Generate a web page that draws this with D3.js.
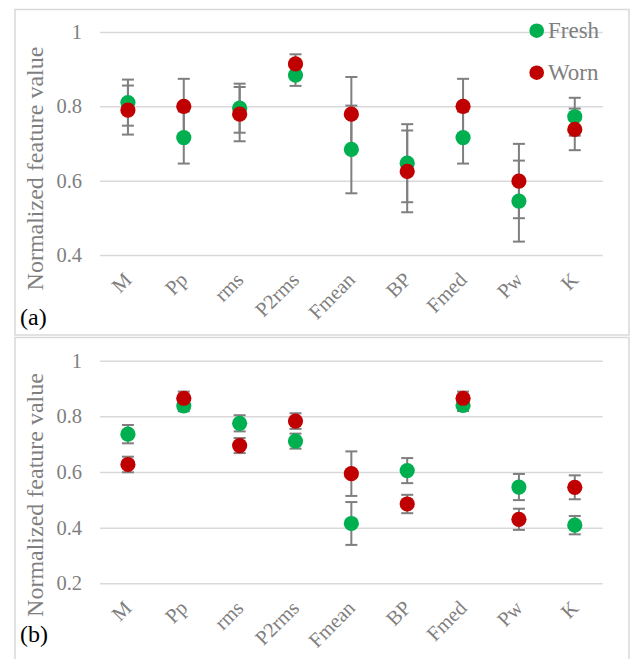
<!DOCTYPE html>
<html lang="en">
<head>
<meta charset="utf-8">
<title>Normalized feature values</title>
<script src="https://cdn.jsdelivr.net/npm/d3@7"></script>
<style>
  body { margin: 0; background: #fff; }
</style>
</head>
<body>
<svg id="chart" width="632" height="659"></svg>
<script>
// feature names on the x axis
var cats = ["M", "Pp", "rms", "P2rms", "Fmean", "BP", "Fmed", "Pw", "K"];
var seriesNames = ["Fresh", "Worn"];

// panel (a)
var freshA    = [0.810, 0.716, 0.795, 0.884, 0.684, 0.647, 0.716, 0.545, 0.772];
var freshAErr = [0.062, 0.070, 0.066, 0.029, 0.118, 0.105, 0.070, 0.109, 0.051];
var wornA     = [0.790, 0.800, 0.779, 0.914, 0.779, 0.625, 0.800, 0.599, 0.738];
var wornAErr  = [0.066, 0.074, 0.073, 0.026, 0.100, 0.110, 0.074, 0.100, 0.056];
var ticksA = [0.4, 0.6, 0.8, 1];

// panel (b)
var freshB    = [0.736, 0.838, 0.775, 0.711, 0.415, 0.605, 0.839, 0.546, 0.409];
var freshBErr = [0.033, 0.020, 0.029, 0.027, 0.077, 0.045, 0.020, 0.047, 0.033];
var wornB     = [0.627, 0.865, 0.695, 0.783, 0.594, 0.485, 0.865, 0.430, 0.545];
var wornBErr  = [0.028, 0.024, 0.027, 0.028, 0.080, 0.033, 0.024, 0.038, 0.043];
var ticksB = [0.2, 0.4, 0.6, 0.8, 1];

var colors = { Fresh: "#00b050", Worn: "#c00000" };
var grey = "#7f7f7f";
var serif = "Liberation Serif";

var svg = d3.select("#chart");

var x = d3.scaleBand().domain(cats).range([100, 602.7]);

function drawPanel(p) {
  var g = svg.append("g");

  // frame
  g.append("rect")
    .attr("x", 15).attr("y", p.frameY)
    .attr("width", 614).attr("height", p.frameH)
    .attr("fill", "none").attr("stroke", "#d9d9d9").attr("stroke-width", 1.5);

  var y = d3.scaleLinear().domain(p.domain).range(p.range);

  // gridlines + tick labels
  var ax = g.append("g")
    .attr("transform", "translate(100,0)")
    .call(d3.axisLeft(y).tickValues(p.ticks)
      .tickSize(-(602.7 - 100)).tickPadding(18)
      .tickFormat(function(d) { return d === 1 ? "1" : d.toFixed(1); }));
  ax.attr("font-family", serif).attr("font-size", 20.5);
  ax.select(".domain").remove();
  ax.selectAll("line").attr("stroke", "#d9d9d9").attr("stroke-width", 1.5);
  ax.selectAll("text").attr("fill", grey);

  // category labels
  g.selectAll(".cat")
    .data(cats)
    .enter().append("text")
    .attr("class", "cat")
    .attr("text-anchor", "end")
    .attr("transform", function(d) {
      return "translate(" + (x(d) + x.bandwidth() / 2 + 5) + "," + (p.range[0] + 26) + ") rotate(-45)";
    })
    .attr("fill", grey)
    .attr("font-family", serif)
    .attr("font-size", 20.5)
    .text(function(d) { return d; });

  // y title
  g.append("text")
    .attr("transform", "translate(42.5," + p.titleY + ") rotate(-90)")
    .attr("text-anchor", "middle")
    .attr("fill", grey)
    .attr("font-family", serif)
    .attr("font-size", 24)
    .text("Normalized feature value");

  // panel letter
  g.append("text")
    .attr("x", 20).attr("y", p.letterY)
    .attr("fill", "#000")
    .attr("font-family", serif)
    .attr("font-size", 24)
    .text(p.letter);

  var series = [
    { name: "Fresh", vals: p.fresh, errs: p.freshErr },
    { name: "Worn", vals: p.worn, errs: p.wornErr }
  ];

  // error bars behind the markers
  series.forEach(function(s) {
    var eb = g.append("g").attr("stroke", grey).attr("stroke-width", 2);
    cats.forEach(function(c, i) {
      var cx = x(c) + x.bandwidth() / 2;
      var hi = y(s.vals[i] + s.errs[i]), lo = y(s.vals[i] - s.errs[i]);
      eb.append("line").attr("x1", cx).attr("x2", cx).attr("y1", hi).attr("y2", lo);
      eb.append("line").attr("x1", cx - 6).attr("x2", cx + 6).attr("y1", hi).attr("y2", hi);
      eb.append("line").attr("x1", cx - 6).attr("x2", cx + 6).attr("y1", lo).attr("y2", lo);
    });
  });

  series.forEach(function(s) {
    g.selectAll(".dot-" + s.name)
      .data(s.vals)
      .enter().append("circle")
      .attr("cx", function(d, i) { return x(cats[i]) + x.bandwidth() / 2; })
      .attr("cy", function(d) { return y(d); })
      .attr("r", 7.6)
      .attr("fill", colors[s.name]);
  });

  return g;
}

var gA = drawPanel({
  frameY: 9.5, frameH: 325.5,
  domain: [0.4, 1], range: [255, 32], ticks: ticksA,
  titleY: 168.5, letter: "(a)", letterY: 325,
  fresh: freshA, freshErr: freshAErr, worn: wornA, wornErr: wornAErr
});

drawPanel({
  frameY: 337.5, frameH: 330,
  domain: [0.2, 1], range: [583.3, 360.7], ticks: ticksB,
  titleY: 495, letter: "(b)", letterY: 641.5,
  fresh: freshB, freshErr: freshBErr, worn: wornB, wornErr: wornBErr
});

// legend (panel a only)
var leg = gA.selectAll(".leg")
  .data(seriesNames)
  .enter().append("g")
  .attr("class", "leg")
  .attr("transform", function(d, i) { return "translate(536.7," + (30.7 + i * 42) + ")"; });
leg.append("circle").attr("r", 7.3).attr("fill", function(d) { return colors[d]; });
leg.append("text")
  .attr("x", 11.3).attr("y", 7.6)
  .attr("fill", grey)
  .attr("font-family", serif)
  .attr("font-size", 23)
  .text(function(d) { return d; });
</script>
</body>
</html>
